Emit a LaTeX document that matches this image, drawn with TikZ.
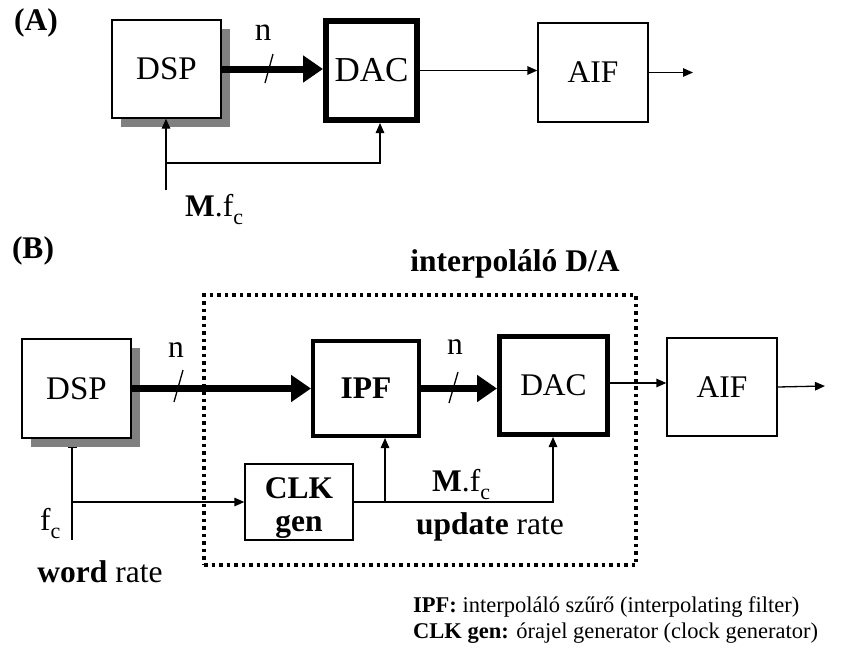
\documentclass[tikz,border=0pt]{standalone}
\usepackage{fontspec}
\setmainfont{Liberation Serif}
\usetikzlibrary{arrows.meta,shadows}
\newcommand{\sbc}{\raisebox{-0.28em}{\fontsize{22}{22}\selectfont c}}
\begin{document}
\begin{tikzpicture}[x=1pt,y=-1pt,
  every node/.style={font=\fontsize{31.5}{33}\selectfont},
  blockbox/.style={draw,line width=1.3pt,fill=white,inner sep=0pt,minimum width=#1},
  shadowed/.style={drop shadow={shadow xshift=9pt,shadow yshift=-9pt,fill=black!50,opacity=1}},
  thinarrow/.style={line width=1.3pt,-{Triangle[length=10pt,width=8.5pt]}},
  thickarrow/.style={line width=7pt,-{Triangle[length=20pt,width=26pt]}},
  slashline/.style={line width=1.3pt},
  lbl/.style={inner sep=0pt},
  legend/.style={inner sep=0pt,font=\fontsize{22.5}{24}\selectfont,anchor=base west},
  dotbox/.style={draw,line width=3.5pt,dash pattern=on 3.5pt off 4pt,inner sep=0pt}
]
\useasboundingbox (0,0) rectangle (844,648);

% ---------------- (A) ----------------
\node[lbl,font=\fontsize{31.5}{33}\selectfont\bfseries] (labA) at (36,23) {(A)};
\node[blockbox=109pt,minimum height=98pt,shadowed,font=\fontsize{33}{35}\selectfont] (DSPa) at (166.5,69) {DSP};
\node[blockbox=91pt,minimum height=99pt,line width=6pt,font=\fontsize{35}{37}\selectfont] (DACa) at (371.5,70.5) {DAC};
\node[blockbox=110pt,minimum height=99pt] (AIFa) at (593,72.5) {AIF};
\coordinate (outA) at (693,72.5);
\coordinate (fa) at (166,190);
\coordinate (ja) at (166,163);
\coordinate (da) at (380,163);

\draw[thickarrow] (DSPa.east) -- (DSPa.east -| DACa.west);
\draw[slashline] (265,83) -- (273,54);
\node[lbl,font=\fontsize{33}{35}\selectfont] (nA) at (263,33) {n};
\draw[thinarrow] (DACa.east) -- (DACa.east -| AIFa.west);
\draw[thinarrow] (AIFa.east) -- (outA);
\draw[thinarrow] (fa) -- (fa |- DSPa.south);
\draw[thinarrow] (ja) -- (da) -- (da |- DACa.south);
\node[lbl,anchor=base west] (MfA) at (185,216) {\textbf{M}.f\sbc};

% ---------------- (B) ----------------
\node[lbl,font=\fontsize{31.5}{33}\selectfont\bfseries] (labB) at (33,251) {(B)};
\node[lbl,font=\fontsize{31.5}{33}\selectfont\bfseries] (interp) at (515,264) {interpoláló D/A};
\node[dotbox,minimum width=432pt,minimum height=270pt] (ibox) at (420,430) {};

\node[blockbox=109pt,minimum height=99pt,shadowed,font=\fontsize{33}{35}\selectfont] (DSPb) at (76.5,388.5) {DSP};
\node[blockbox=106pt,minimum height=95pt,line width=4pt,font=\fontsize{31.5}{33}\selectfont\bfseries] (IPF) at (366,388.5) {IPF};
\node[blockbox=108pt,minimum height=98pt,line width=5pt] (DACb) at (553.5,385.5) {DAC};
\node[blockbox=110pt,minimum height=98pt] (AIFb) at (722,387) {AIF};
\node[blockbox=108pt,minimum height=76pt,align=center,font=\fontsize{31.5}{33}\selectfont\bfseries] (CLK) at (299,502) {\rule{0pt}{32pt}CLK\\gen};
\coordinate (outB) at (825,386);
\coordinate (fb) at (72,540);
\coordinate (sb) at (72,447);
\coordinate (jb) at (72,502);
\coordinate (kb) at (553,502);
\coordinate (ib) at (385,502);

\draw[thickarrow] (DSPb.east) -- (DSPb.east -| IPF.west);
\draw[slashline] (174,402) -- (183,370);
\node[lbl] (nB1) at (176,350) {n};
\draw[thickarrow] (IPF.east) -- (IPF.east -| DACb.west);
\draw[slashline] (449,403) -- (458,372);
\node[lbl] (nB2) at (455,347) {n};
\draw[thinarrow] (DACb.east |- 0,383) -- (AIFb.west |- 0,383);
\draw[thinarrow] (AIFb.east) -- (outB);
\draw[line width=1.3pt,-{Bar[width=9pt,line width=1.3pt]}] (fb) -- (sb);
\draw[thinarrow] (jb) -- (CLK.west);
\draw[thinarrow] (CLK.east) -- (kb) -- (kb |- DACb.south);
\draw[thinarrow] (ib) -- (ib |- IPF.south);

\node[lbl,anchor=base west] (MfB) at (432,491) {\textbf{M}.f\sbc};
\node[lbl] (upd) at (490,527) {\textbf{update} rate};
\node[lbl,anchor=base west] (fcB) at (40,530) {f\sbc};
\node[lbl] (word) at (100,572) {\textbf{word} rate};

\node[legend] (leg1) at (413,612) {\textbf{IPF:} interpoláló szűrő (interpolating filter)};
\node[legend] (leg2) at (413,638) {\textbf{CLK gen:} órajel generator (clock generator)};
\end{tikzpicture}
\end{document}
